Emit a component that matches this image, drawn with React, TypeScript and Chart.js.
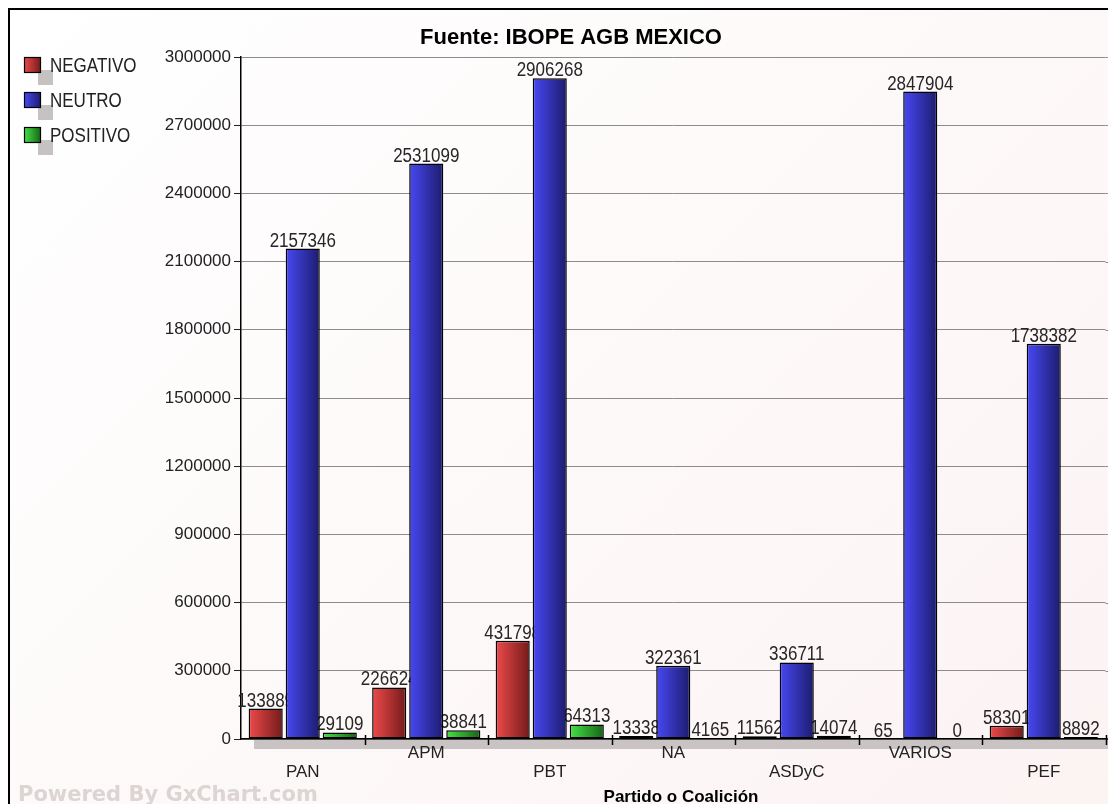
import { useEffect, useRef } from 'react';
import { Chart, registerables } from 'chart.js';

Chart.register(...registerables);

const categories = ['PAN', 'APM', 'PBT', 'NA', 'ASDyC', 'VARIOS', 'PEF'];
const seriesNames = ['NEGATIVO', 'NEUTRO', 'POSITIVO'];
const negativo = [133889, 226624, 431798, 13338, 11562, 65, 58301];
const neutro = [2157346, 2531099, 2906268, 322361, 336711, 2847904, 1738382];
const positivo = [29109, 38841, 64313, 4165, 14074, 0, 8892];
const yMin = 0;
const yMax = 3000000;
const yStep = 300000;
const titleText = 'Fuente: IBOPE AGB MEXICO';
const xTitleText = 'Partido o Coalición';
const watermarkText = 'Powered By GxChart.com';

const palette: string[][] = [
  ['#ee4a4a', '#741a1a'],
  ['#4848f4', '#1c1c6e'],
  ['#46e246', '#156415'],
];

const SANS = '"Liberation Sans", Arial, sans-serif';
const SQUEEZE = 0.85;

function grad(ctx: CanvasRenderingContext2D, x0: number, x1: number, c: string[]) {
  const g = ctx.createLinearGradient(x0, 0, x1, 0);
  g.addColorStop(0, c[0]);
  g.addColorStop(1, c[1]);
  return g;
}

function fillNarrow(ctx: CanvasRenderingContext2D, text: string, x: number, y: number) {
  ctx.save();
  ctx.translate(x, y);
  ctx.scale(SQUEEZE, 1);
  ctx.fillText(text, 0, 0);
  ctx.restore();
}

const deco = {
  id: 'deco',
  beforeDraw(chart: any) {
    const { ctx, chartArea: a, width, height } = chart;
    ctx.save();
    ctx.fillStyle = '#c9c3c3';
    ctx.fillRect(a.left + 13, a.bottom + 1, width - a.left - 13, 9);
    ctx.strokeStyle = '#b4b0b0';
    ctx.lineWidth = 1;
    ctx.beginPath();
    ctx.moveTo(width - 1.5, 60);
    ctx.lineTo(width - 1.5, height);
    ctx.stroke();
    ctx.restore();
  },
  beforeDatasetsDraw(chart: any) {
    const { ctx, chartArea: a, width } = chart;
    const ys = chart.scales.y;
    ctx.save();
    ctx.strokeStyle = '#8c8c8c';
    ctx.lineWidth = 1;
    for (const t of ys.ticks) {
      const py = Math.round(ys.getPixelForValue(t.value)) + 0.5;
      ctx.beginPath();
      ctx.moveTo(a.right, py);
      ctx.lineTo(width, py);
      ctx.stroke();
    }
    chart.data.datasets.forEach((ds: any, di: number) => {
      const meta = chart.getDatasetMeta(di);
      meta.data.forEach((el: any) => {
        const w = el.width;
        el.options = { ...el.options, backgroundColor: grad(ctx, el.x - w / 2, el.x + w / 2, palette[di]) };
      });
    });
    ctx.font = `20px ${SANS}`;
    ctx.textAlign = 'center';
    ctx.textBaseline = 'alphabetic';
    ctx.fillStyle = '#262626';
    chart.data.datasets.forEach((ds: any, di: number) => {
      chart.getDatasetMeta(di).data.forEach((el: any, i: number) => {
        fillNarrow(ctx, String(ds.data[i]), el.x, el.y - 2);
      });
    });
    ctx.restore();
  },
  afterDraw(chart: any) {
    const { ctx, chartArea: a, width } = chart;
    const xs = chart.scales.x;
    ctx.save();
    ctx.strokeStyle = '#000';
    ctx.lineWidth = 1.5;
    ctx.beginPath();
    ctx.moveTo(a.right, a.bottom);
    ctx.lineTo(width, a.bottom);
    ctx.stroke();
    const half = (xs.getPixelForValue(1) - xs.getPixelForValue(0)) / 2;
    for (let i = 0; i < categories.length; i++) {
      const px = Math.round(xs.getPixelForValue(i) + half) + 0.5;
      ctx.beginPath();
      ctx.moveTo(px, a.bottom - 4);
      ctx.lineTo(px, a.bottom + 6);
      ctx.stroke();
    }
    // title
    ctx.fillStyle = '#000';
    ctx.font = `bold 22px ${SANS}`;
    ctx.textAlign = 'center';
    ctx.textBaseline = 'middle';
    ctx.fillText(titleText, 561, 28);
    // legend
    seriesNames.forEach((name, i) => {
      const cy = 55 + i * 35;
      ctx.fillStyle = '#c6c2c2';
      ctx.fillRect(28, cy + 5, 15, 15);
      ctx.fillStyle = grad(ctx, 14, 31, palette[i]);
      ctx.fillRect(14, cy - 8, 17, 16);
      ctx.strokeStyle = '#000';
      ctx.lineWidth = 1.2;
      ctx.strokeRect(14.5, cy - 7.5, 16, 15);
      ctx.fillStyle = '#222';
      ctx.font = `20px ${SANS}`;
      ctx.textAlign = 'left';
      ctx.textBaseline = 'middle';
      fillNarrow(ctx, name, 40, cy + 1);
    });
    // watermark
    ctx.fillStyle = '#ddd4d4';
    ctx.font = 'bold 21px "DejaVu Sans", Verdana, sans-serif';
    ctx.textAlign = 'left';
    ctx.textBaseline = 'alphabetic';
    ctx.fillText(watermarkText, 8, 791);
    // x title
    ctx.fillStyle = '#000';
    ctx.font = `bold 17px ${SANS}`;
    ctx.textAlign = 'center';
    ctx.fillText(xTitleText, 671, 792);
    ctx.restore();
  },
};

export default function App() {
  const ref = useRef<HTMLCanvasElement>(null);
  useEffect(() => {
    if (!ref.current) return;
    const chart = new Chart(ref.current, {
      type: 'bar',
      data: {
        labels: categories.map((c, i) => (i % 2 === 0 ? ['', c] : [c, ''])),
        datasets: [negativo, neutro, positivo].map((d, i) => ({
          label: seriesNames[i],
          data: d,
          backgroundColor: palette[i][0],
          borderColor: '#000',
          borderWidth: 1.5,
          borderSkipped: false,
          categoryPercentage: 0.9,
          barPercentage: 0.92,
        })),
      },
      options: {
        responsive: false,
        animation: false,
        events: [],
        layout: { padding: { left: 0, right: 10.5, top: 47, bottom: 0 } },
        plugins: { legend: { display: false }, title: { display: false }, tooltip: { enabled: false } },
        scales: {
          x: {
            grid: { display: false, drawTicks: false },
            border: { color: '#000', width: 1.5 },
            ticks: {
              padding: 5,
              color: '#222',
              autoSkip: false,
              maxRotation: 0,
              font: { family: SANS, size: 17, lineHeight: 1.12 },
            },
            afterFit: (s: any) => {
              s.height = 65;
            },
          },
          y: {
            min: yMin,
            max: yMax,
            grid: { color: '#8c8c8c', lineWidth: 1, tickColor: '#222', tickLength: 7 },
            border: { color: '#000', width: 1.5 },
            ticks: {
              stepSize: yStep,
              padding: 3,
              color: '#222',
              font: { family: SANS, size: 17 },
              callback: (v: any) => String(v),
            },
            afterFit: (s: any) => {
              s.width = 231;
            },
          },
        },
      },
      plugins: [deco],
    });
    return () => chart.destroy();
  }, []);
  return (
    <div
      style={{
        width: 1106,
        height: 794,
        borderTop: '2px solid #000',
        borderLeft: '2px solid #000',
        background: 'linear-gradient(135deg, #ffffff 0%, #fcf3f3 100%)',
        overflow: 'hidden',
      }}
    >
      <canvas ref={ref} width={1106} height={794} style={{ display: 'block' }} />
    </div>
  );
}
